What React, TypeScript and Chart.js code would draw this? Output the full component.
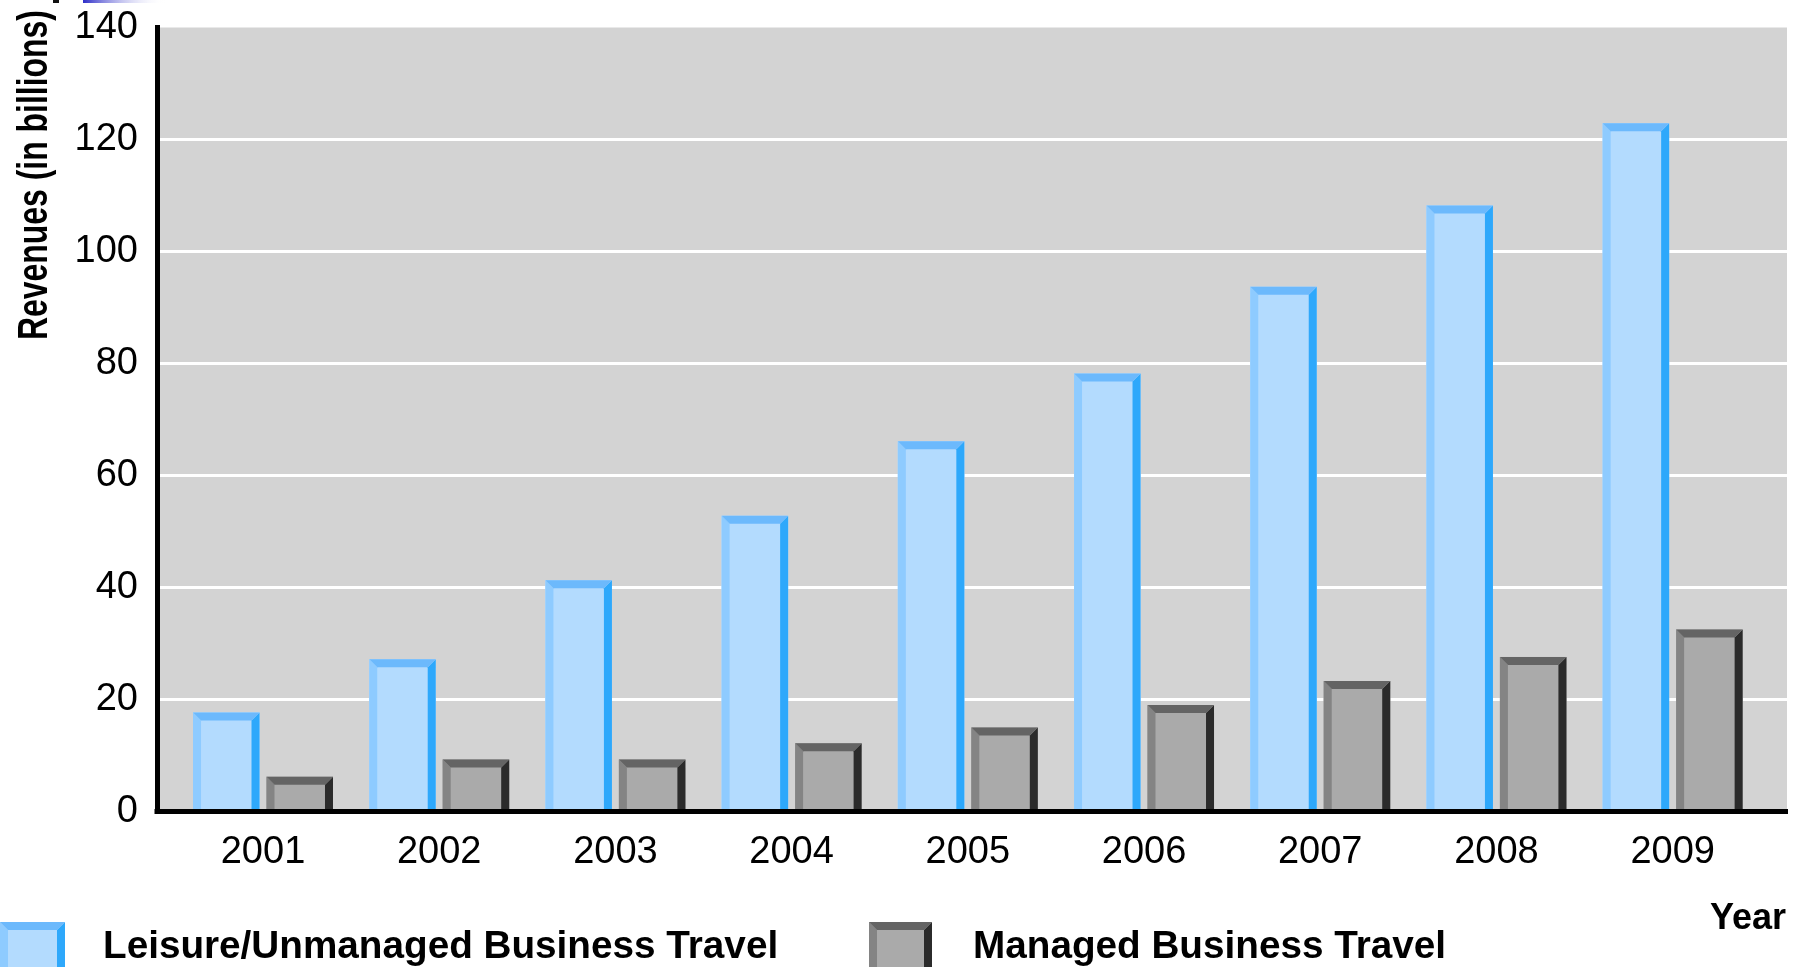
import React, { useEffect, useRef } from "react";
import { Chart, registerables } from "chart.js";

Chart.register(...registerables);

// ---- data ----
const years = ["2001", "2002", "2003", "2004", "2005", "2006", "2007", "2008", "2009"];
const leisure = [17.7, 27.2, 41.3, 52.8, 66.1, 78.2, 93.7, 108.2, 122.9];
const managed = [6.2, 9.3, 9.3, 12.2, 15.0, 19.0, 23.3, 27.6, 32.5];
const yTickValues = [0, 20, 40, 60, 80, 100, 120, 140];
const seriesNames = ["Leisure/Unmanaged Business Travel", "Managed Business Travel"];
const yTitle = "Revenues (in billions)";
const xTitle = "Year";

// ---- styles ----
const FONT = "'Liberation Sans', Arial, Helvetica, sans-serif";
const BLUE = { fill: "#b3dbfe", left: "#8ecbff", top: "#6cb9fc", right: "#2ea8fb" };
const GRAY = { fill: "#aaaaaa", left: "#848484", top: "#646464", right: "#2b2b2b" };
const palettes = [BLUE, GRAY];
const BEVEL = 8;

type Pal = typeof BLUE;

function bevelBox(ctx: CanvasRenderingContext2D, x0: number, y0: number, x1: number, y1: number, p: Pal, b: number) {
  ctx.fillStyle = p.fill;
  ctx.fillRect(x0, y0, x1 - x0, y1 - y0);
  ctx.fillStyle = p.left;
  ctx.beginPath();
  ctx.moveTo(x0, y0);
  ctx.lineTo(x0 + b, y0 + b);
  ctx.lineTo(x0 + b, y1);
  ctx.lineTo(x0, y1);
  ctx.closePath();
  ctx.fill();
  ctx.fillStyle = p.right;
  ctx.beginPath();
  ctx.moveTo(x1, y0);
  ctx.lineTo(x1, y1);
  ctx.lineTo(x1 - b, y1);
  ctx.lineTo(x1 - b, y0 + b);
  ctx.closePath();
  ctx.fill();
  ctx.fillStyle = p.top;
  ctx.beginPath();
  ctx.moveTo(x0, y0);
  ctx.lineTo(x1, y0);
  ctx.lineTo(x1 - b, y0 + b);
  ctx.lineTo(x0 + b, y0 + b);
  ctx.closePath();
  ctx.fill();
}

const decor = {
  id: "decor",
  beforeDraw(chart: any) {
    const { ctx, chartArea: a } = chart;
    ctx.save();
    ctx.fillStyle = "#d3d3d3";
    ctx.fillRect(a.left, a.top, a.right - a.left, a.bottom - a.top);
    ctx.fillStyle = "#111";
    ctx.fillRect(53, 0, 6, 3);
    const g = ctx.createLinearGradient(83, 0, 165, 0);
    g.addColorStop(0, "#2e2ec8");
    g.addColorStop(1, "rgba(255,255,255,0)");
    ctx.fillStyle = g;
    ctx.fillRect(83, 0, 82, 3);
    ctx.restore();
  },
  afterDatasetsDraw(chart: any) {
    const { ctx, chartArea: a } = chart;
    ctx.save();
    chart.data.datasets.forEach((_: any, di: number) => {
      const meta = chart.getDatasetMeta(di);
      meta.data.forEach((el: any) => {
        const { x, y, base, width } = el.getProps(["x", "y", "base", "width"], true);
        bevelBox(ctx, x - width / 2, y, x + width / 2, base, palettes[di], BEVEL);
      });
    });
    const y0 = chart.scales.y.getPixelForValue(0);
    ctx.fillStyle = "#000";
    ctx.fillRect(a.left - 2.5, y0 - 2.5, a.right - a.left + 2.5, 5);
    ctx.restore();
  },
  afterDraw(chart: any) {
    const { ctx } = chart;
    ctx.save();
    ctx.fillStyle = "#000";
    ctx.save();
    ctx.translate(47, 340);
    ctx.rotate(-Math.PI / 2);
    ctx.scale(0.76, 1);
    ctx.font = `bold 42px ${FONT}`;
    ctx.textAlign = "left";
    ctx.textBaseline = "alphabetic";
    ctx.fillText(yTitle, 0, 0);
    ctx.restore();
    ctx.font = `bold 36px ${FONT}`;
    ctx.textAlign = "right";
    ctx.textBaseline = "alphabetic";
    ctx.fillText(xTitle, 1786, 929);
    const boxes = [
      [0, 65],
      [869, 932],
    ];
    const textX = [103, 973];
    seriesNames.forEach((name, i) => {
      bevelBox(ctx, boxes[i][0], 922, boxes[i][1], 990, palettes[i], 8);
      ctx.fillStyle = "#000";
      ctx.font = `bold 38.7px ${FONT}`;
      ctx.textAlign = "left";
      ctx.fillText(name, textX[i], 958);
    });
    ctx.restore();
  },
};

export default function App() {
  const ref = useRef<HTMLCanvasElement>(null);
  useEffect(() => {
    document.body.style.margin = "0";
    Chart.defaults.font.family = FONT;
    Chart.defaults.color = "#000";
    const chart = new Chart(ref.current as HTMLCanvasElement, {
      type: "bar",
      data: {
        datasets: [
          {
            label: seriesNames[0],
            data: leisure.map((v, i) => ({ x: i, y: v })),
            backgroundColor: BLUE.fill,
            borderWidth: 0,
            categoryPercentage: 0.834,
            barPercentage: 0.905,
          },
          {
            label: seriesNames[1],
            data: managed.map((v, i) => ({ x: i, y: v })),
            backgroundColor: GRAY.fill,
            borderWidth: 0,
            categoryPercentage: 0.834,
            barPercentage: 0.905,
          },
        ],
      } as any,
      options: {
        animation: false,
        responsive: true,
        maintainAspectRatio: false,
        layout: { padding: { top: 27.5, right: 13, bottom: 0, left: 0 } },
        plugins: { legend: { display: false }, tooltip: { enabled: false } },
        scales: {
          x: {
            type: "linear",
            offset: false,
            min: -0.6016,
            max: 8.649,
            afterBuildTicks: (s: any) => {
              s.ticks = years.map((_, i) => ({ value: i }));
            },
            afterFit: (s: any) => {
              s.height = 155.5;
              s.paddingLeft = 0;
              s.paddingRight = 0;
            },
            ticks: {
              callback: (v: any) => years[v] ?? "",
              font: { size: 38 },
              color: "#000",
              padding: 18,
              autoSkip: false,
              maxRotation: 0,
            },
            grid: { display: false, drawTicks: false, offset: false },
            border: { color: "#000", width: 5 },
          },
          y: {
            type: "linear",
            min: 0,
            max: 140,
            afterBuildTicks: (s: any) => {
              s.ticks = yTickValues.map((v) => ({ value: v }));
            },
            afterFit: (s: any) => {
              s.width = 157;
              s.paddingTop = 0;
              s.paddingBottom = 0;
            },
            ticks: { font: { size: 38 }, color: "#000", padding: 19 },
            grid: {
              color: (c: any) =>
                c.tick && (c.tick.value === 0 || c.tick.value === 140) ? "rgba(0,0,0,0)" : "#ffffff",
              lineWidth: 3,
              drawTicks: false,
            },
            border: { color: "#000", width: 5 },
          },
        },
      } as any,
      plugins: [decor],
    });
    return () => chart.destroy();
  }, []);
  return (
    <div style={{ width: 1800, height: 967, position: "relative" }}>
      <canvas ref={ref} />
    </div>
  );
}
